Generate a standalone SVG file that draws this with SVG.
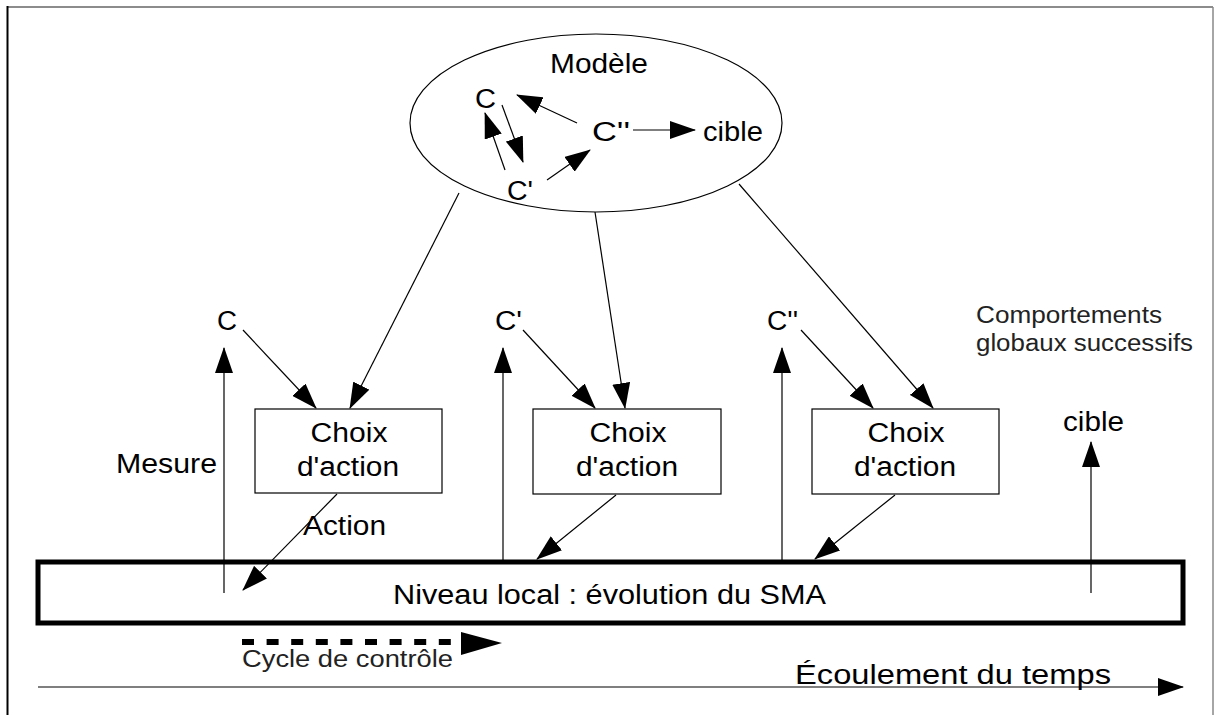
<svg xmlns="http://www.w3.org/2000/svg" width="1215" height="715" viewBox="0 0 1215 715">
<defs>
<style>
text{font-family:"Liberation Sans",Arial,sans-serif;font-size:27px;fill:#000}
.sm{font-size:23px;fill:#222}
.ln{stroke:#000;stroke-width:1.2;fill:none;marker-end:url(#ah)}
.box{fill:#fff;stroke:#000;stroke-width:1.2}
</style>
<marker id="ah" markerUnits="userSpaceOnUse" markerWidth="26" markerHeight="18" refX="25" refY="9" orient="auto"><path d="M0,0 L26,9 L0,18 Z" fill="#000"/></marker>
</defs>
<rect width="1215" height="715" fill="#fff"/>
<g id="frame">
<line x1="7" y1="7" x2="1213" y2="7" stroke="#666" stroke-width="1.5"/>
<line x1="1213" y1="7" x2="1213" y2="715" stroke="#888" stroke-width="1.5"/>
<line x1="7.5" y1="6" x2="7.5" y2="715" stroke="#000" stroke-width="2"/>
</g>
<g id="modele">
<ellipse cx="596" cy="123" rx="186" ry="89" fill="#fff" stroke="#000" stroke-width="1.2"/>
<text x="599" y="73" text-anchor="middle" textLength="98" lengthAdjust="spacingAndGlyphs">Modèle</text>
<text x="475" y="108" textLength="21" lengthAdjust="spacingAndGlyphs">C</text>
<text x="592" y="141" textLength="38" lengthAdjust="spacingAndGlyphs">C''</text>
<text x="703" y="141" textLength="60" lengthAdjust="spacingAndGlyphs">cible</text>
<text x="507" y="200" textLength="26" lengthAdjust="spacingAndGlyphs">C'</text>
</g>
<g id="band">
<rect x="38" y="562" width="1145" height="61" fill="#fff" stroke="#000" stroke-width="5"/>
<text x="609.5" y="604" text-anchor="middle" textLength="433" lengthAdjust="spacingAndGlyphs">Niveau local : évolution du SMA</text>
</g>
<g id="box1">
<rect class="box" x="255" y="409" width="187" height="84"/>
<text x="349" y="442" text-anchor="middle" textLength="77" lengthAdjust="spacingAndGlyphs">Choix</text>
<text x="348" y="476" text-anchor="middle" textLength="102" lengthAdjust="spacingAndGlyphs">d'action</text>
</g>
<g id="box2">
<rect class="box" x="533" y="409" width="188" height="85"/>
<text x="628" y="442" text-anchor="middle" textLength="77" lengthAdjust="spacingAndGlyphs">Choix</text>
<text x="627" y="476" text-anchor="middle" textLength="102" lengthAdjust="spacingAndGlyphs">d'action</text>
</g>
<g id="box3">
<rect class="box" x="812" y="409" width="187" height="85"/>
<text x="906" y="442" text-anchor="middle" textLength="77" lengthAdjust="spacingAndGlyphs">Choix</text>
<text x="905" y="476" text-anchor="middle" textLength="102" lengthAdjust="spacingAndGlyphs">d'action</text>
</g>
<g id="labels">
<text x="217" y="330" textLength="20" lengthAdjust="spacingAndGlyphs">C</text>
<text x="495" y="330" textLength="27" lengthAdjust="spacingAndGlyphs">C'</text>
<text x="767" y="330" textLength="31" lengthAdjust="spacingAndGlyphs">C''</text>
<text class="sm" x="976" y="323" textLength="186" lengthAdjust="spacingAndGlyphs">Comportements</text>
<text class="sm" x="976" y="351" textLength="217" lengthAdjust="spacingAndGlyphs">globaux successifs</text>
<text x="1063" y="431" textLength="61" lengthAdjust="spacingAndGlyphs">cible</text>
<text x="116" y="473" textLength="101" lengthAdjust="spacingAndGlyphs">Mesure</text>
<text x="303" y="535" textLength="83" lengthAdjust="spacingAndGlyphs">Action</text>
<text class="sm" x="242" y="667" textLength="211" lengthAdjust="spacingAndGlyphs">Cycle de contrôle</text>
<text x="795" y="684" textLength="316" lengthAdjust="spacingAndGlyphs">Écoulement du temps</text>
</g>
<g id="connectors">
<line class="ln" x1="577" y1="123" x2="517" y2="95"/>
<line class="ln" x1="502" y1="105" x2="523" y2="162"/>
<line class="ln" x1="505" y1="170" x2="485" y2="113"/>
<line class="ln" x1="547" y1="180" x2="590" y2="150"/>
<line class="ln" x1="633" y1="130" x2="695" y2="130"/>
<line class="ln" x1="459" y1="193" x2="350" y2="408"/>
<line class="ln" x1="595" y1="212" x2="625" y2="408"/>
<line class="ln" x1="739" y1="184" x2="933" y2="408"/>
<line class="ln" x1="243" y1="330" x2="316" y2="408"/>
<line class="ln" x1="523" y1="330" x2="595" y2="408"/>
<line class="ln" x1="801" y1="330" x2="873" y2="408"/>
<line class="ln" x1="224" y1="593" x2="224" y2="348" stroke-width="1.5"/>
<line class="ln" x1="503" y1="560" x2="503" y2="348" stroke-width="1.5"/>
<line class="ln" x1="782" y1="560" x2="782" y2="348" stroke-width="1.5"/>
<line class="ln" x1="1091" y1="593" x2="1091" y2="442" stroke-width="1.5"/>
<line class="ln" x1="337" y1="494" x2="243" y2="590"/>
<line class="ln" x1="616" y1="495" x2="537" y2="559"/>
<line class="ln" x1="895" y1="495" x2="815" y2="559"/>
<line x1="242" y1="642" x2="462" y2="642" stroke="#000" stroke-width="6" stroke-dasharray="12 12.6"/>
<polygon points="461,632 502,643 461,655" fill="#000"/>
<line class="ln" x1="38" y1="687" x2="1183" y2="687" stroke-width="2"/>
</g>
</svg>
